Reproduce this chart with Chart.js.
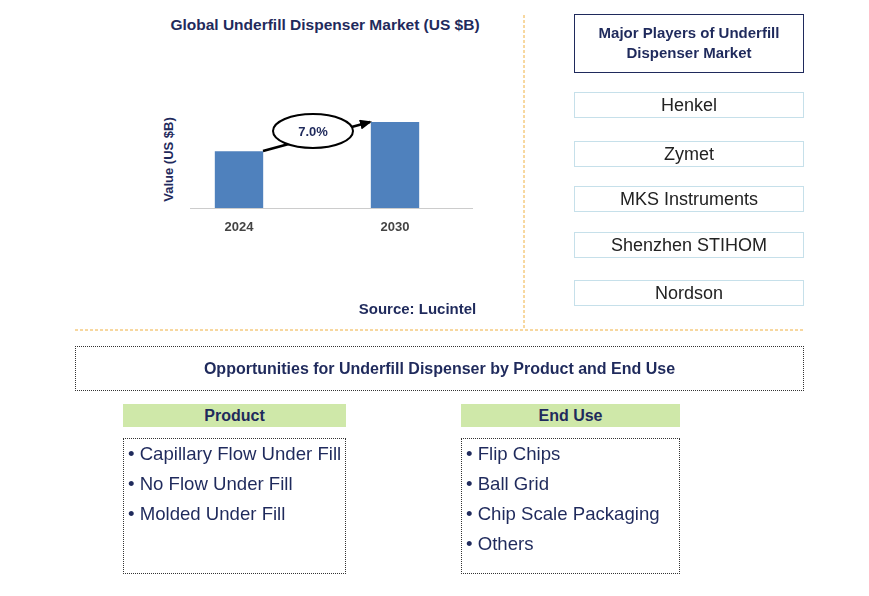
<!DOCTYPE html>
<html><head><meta charset="utf-8">
<script src="https://cdn.jsdelivr.net/npm/chart.js@4"></script>
<style>
body{margin:0;width:869px;height:596px;position:relative;background:#fff;font-family:Arial,"Liberation Sans",sans-serif;overflow:hidden}
.a{position:absolute;box-sizing:border-box}
.navy{color:#1f2a5c}
.pl{border:1px solid #c6e0ea;font-size:18px;color:#222;text-align:center;line-height:24px;left:574px;width:230px;height:26px}
.hdr{background:#cfe8a9;font-weight:bold;font-size:16px;color:#1f2a5c;text-align:center;line-height:23px;height:23px}
.lst{border:1px dotted #333;font-size:18.6px;color:#1f2a5c;padding:0 0 0 4px;line-height:30px}
</style></head><body>
<div class="a navy" style="left:150px;top:16px;width:350px;text-align:center;font-weight:bold;font-size:15.5px">Global Underfill Dispenser Market (US $B)</div>
<div class="a navy" style="left:118px;top:152px;width:100px;text-align:center;font-weight:bold;font-size:13px;transform:rotate(-90deg);transform-origin:center">Value (US $B)</div>
<div class="a" style="left:161px;top:88px;width:312px;height:150px"><canvas id="c"></canvas></div>
<div class="a" style="left:190px;top:208px;width:283px;height:1px;background:#ccc"></div>
<svg class="a" style="left:0;top:0" width="869" height="596">
<defs><marker id="ar" markerUnits="userSpaceOnUse" markerWidth="12" markerHeight="10" refX="10" refY="5" orient="auto"><path d="M0,0 L12,5 L0,10 z" fill="#000"/></marker></defs>
<line x1="263" y1="151" x2="370" y2="122" stroke="#000" stroke-width="2.5" marker-end="url(#ar)"/>
<ellipse cx="313" cy="131" rx="40" ry="17" fill="#fff" stroke="#000" stroke-width="2"/>
<text x="313" y="136" text-anchor="middle" font-family="Arial" font-weight="bold" font-size="13" fill="#1f2a5c">7.0%</text>
<line x1="524" y1="15" x2="524" y2="328" stroke="#f0b040" stroke-width="1" stroke-dasharray="3,2"/>
<line x1="75" y1="330" x2="803" y2="330" stroke="#f0b040" stroke-width="1" stroke-dasharray="3,2"/>
</svg>
<div class="a navy" style="left:340px;top:300px;width:155px;text-align:center;font-weight:bold;font-size:15px">Source: Lucintel</div>
<div class="a navy" style="left:574px;top:14px;width:230px;height:59px;border:1.5px solid #1f2a5c;text-align:center;font-weight:bold;font-size:15px;padding-top:8px;line-height:20px">Major Players of Underfill<br>Dispenser Market</div>
<div class="a pl" style="top:92px">Henkel</div>
<div class="a pl" style="top:141px">Zymet</div>
<div class="a pl" style="top:186px">MKS Instruments</div>
<div class="a pl" style="top:232px">Shenzhen STIHOM</div>
<div class="a pl" style="top:280px">Nordson</div>
<div class="a navy" style="left:75px;top:346px;width:729px;height:45px;border:1px dotted #333;text-align:center;font-weight:bold;font-size:16px;line-height:43px">Opportunities for Underfill Dispenser by Product and End Use</div>
<div class="a hdr" style="left:123px;top:404px;width:223px">Product</div>
<div class="a lst" style="left:123px;top:438px;width:223px;height:136px">• Capillary Flow Under Fill<br>• No Flow Under Fill<br>• Molded Under Fill</div>
<div class="a hdr" style="left:461px;top:404px;width:219px">End Use</div>
<div class="a lst" style="left:461px;top:438px;width:219px;height:136px">• Flip Chips<br>• Ball Grid<br>• Chip Scale Packaging<br>• Others</div>
<script>
const categories=["2024","2030"];
const values=[0.57,0.86];
new Chart(document.getElementById('c'),{type:'bar',
data:{labels:categories,datasets:[{data:values,backgroundColor:'#4f81bd',barPercentage:0.31,categoryPercentage:1}]},
options:{responsive:true,maintainAspectRatio:false,animation:false,layout:{padding:0},
plugins:{legend:{display:false},tooltip:{enabled:false}},
scales:{y:{display:false,min:0,max:1.2},
x:{grid:{display:false},border:{display:false},ticks:{color:'#444',font:{family:'Arial',weight:'bold',size:13},padding:3}}}}});
</script>
</body></html>
